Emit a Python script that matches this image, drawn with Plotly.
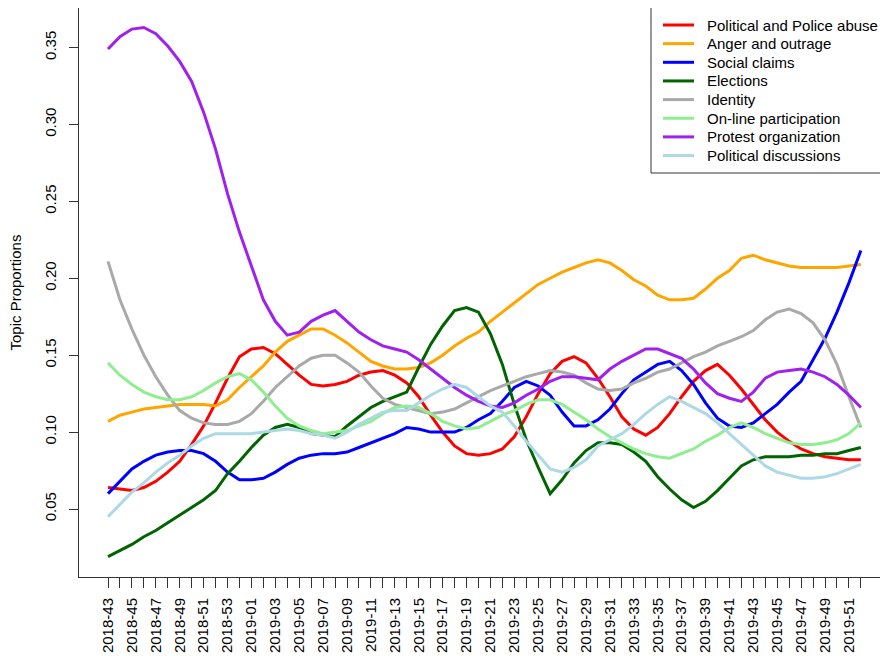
import plotly.graph_objects as go

weeks = (["2018-%02d" % w for w in range(43, 54)]
         + ["2019-%02d" % w for w in range(0, 53)])
tick_text = [wk if i % 2 == 0 else "" for i, wk in enumerate(weeks)]

police_abuse = [0.064, 0.063, 0.062, 0.064, 0.068, 0.074, 0.081, 0.092, 0.104, 0.119,
                0.135, 0.149, 0.154, 0.155, 0.151, 0.144, 0.137, 0.131, 0.130, 0.131,
                0.133, 0.137, 0.139, 0.140, 0.137, 0.132, 0.123, 0.111, 0.100, 0.091,
                0.086, 0.085, 0.086, 0.089, 0.097, 0.110, 0.125, 0.138, 0.146, 0.149,
                0.145, 0.135, 0.123, 0.110, 0.102, 0.098, 0.103, 0.112, 0.123, 0.133,
                0.140, 0.144, 0.137, 0.128, 0.118, 0.108, 0.100, 0.094, 0.089, 0.086,
                0.084, 0.083, 0.082, 0.082]
anger = [0.107, 0.111, 0.113, 0.115, 0.116, 0.117, 0.118, 0.118, 0.118, 0.117,
         0.121, 0.129, 0.136, 0.143, 0.152, 0.159, 0.163, 0.167, 0.167, 0.163,
         0.158, 0.152, 0.146, 0.143, 0.141, 0.141, 0.142, 0.145, 0.150, 0.156,
         0.161, 0.165, 0.172, 0.178, 0.184, 0.190, 0.196, 0.200, 0.204, 0.207,
         0.210, 0.212, 0.210, 0.205, 0.199, 0.195, 0.189, 0.186, 0.186, 0.187,
         0.193, 0.200, 0.205, 0.213, 0.215, 0.212, 0.210, 0.208, 0.207, 0.207,
         0.207, 0.207, 0.208, 0.209]
social = [0.060, 0.068, 0.076, 0.081, 0.085, 0.087, 0.088, 0.088, 0.086, 0.081,
          0.074, 0.069, 0.069, 0.070, 0.074, 0.079, 0.083, 0.085, 0.086, 0.086,
          0.087, 0.090, 0.093, 0.096, 0.099, 0.103, 0.102, 0.100, 0.100, 0.100,
          0.103, 0.108, 0.112, 0.120, 0.129, 0.133, 0.130, 0.124, 0.113, 0.104,
          0.104, 0.108, 0.115, 0.125, 0.134, 0.139, 0.144, 0.146, 0.140, 0.131,
          0.119, 0.109, 0.104, 0.103, 0.106, 0.112, 0.118, 0.126, 0.133, 0.147,
          0.161, 0.178, 0.197, 0.218]
elections = [0.019, 0.023, 0.027, 0.032, 0.036, 0.041, 0.046, 0.051, 0.056, 0.062,
             0.073, 0.081, 0.090, 0.098, 0.103, 0.105, 0.103, 0.099, 0.098, 0.097,
             0.104, 0.110, 0.116, 0.120, 0.123, 0.126, 0.142, 0.157, 0.169, 0.179,
             0.181, 0.178, 0.164, 0.144, 0.118, 0.095, 0.077, 0.060, 0.069, 0.080,
             0.088, 0.093, 0.093, 0.092, 0.087, 0.081, 0.071, 0.063, 0.056, 0.051,
             0.055, 0.062, 0.070, 0.078, 0.082, 0.084, 0.084, 0.084, 0.085, 0.085,
             0.086, 0.086, 0.088, 0.090]
identity = [0.211, 0.186, 0.167, 0.150, 0.136, 0.124, 0.114, 0.109, 0.106, 0.105,
            0.105, 0.107, 0.112, 0.120, 0.129, 0.136, 0.143, 0.148, 0.150, 0.150,
            0.145, 0.139, 0.130, 0.122, 0.118, 0.116, 0.114, 0.112, 0.113, 0.115,
            0.119, 0.123, 0.127, 0.130, 0.133, 0.136, 0.138, 0.140, 0.139, 0.137,
            0.132, 0.128, 0.127, 0.128, 0.132, 0.135, 0.139, 0.141, 0.145, 0.149,
            0.152, 0.156, 0.159, 0.162, 0.166, 0.173, 0.178, 0.180, 0.177, 0.171,
            0.160, 0.144, 0.123, 0.103]
online = [0.145, 0.137, 0.131, 0.126, 0.123, 0.121, 0.121, 0.123, 0.127, 0.132,
          0.136, 0.138, 0.134, 0.126, 0.117, 0.109, 0.104, 0.101, 0.099, 0.100,
          0.101, 0.104, 0.107, 0.112, 0.116, 0.117, 0.116, 0.112, 0.107, 0.104,
          0.102, 0.103, 0.107, 0.111, 0.114, 0.118, 0.121, 0.121, 0.118, 0.113,
          0.108, 0.102, 0.097, 0.093, 0.089, 0.086, 0.084, 0.083, 0.086, 0.089,
          0.094, 0.098, 0.103, 0.106, 0.103, 0.099, 0.096, 0.093, 0.092, 0.092,
          0.093, 0.095, 0.099, 0.106]
protest = [0.349, 0.357, 0.362, 0.363, 0.359, 0.351, 0.341, 0.328, 0.308, 0.284,
           0.255, 0.230, 0.208, 0.186, 0.172, 0.163, 0.165, 0.172, 0.176, 0.179,
           0.172, 0.165, 0.160, 0.156, 0.154, 0.152, 0.147, 0.141, 0.135, 0.129,
           0.124, 0.120, 0.117, 0.116, 0.119, 0.124, 0.128, 0.133, 0.136, 0.136,
           0.135, 0.134, 0.141, 0.146, 0.150, 0.154, 0.154, 0.151, 0.148, 0.141,
           0.132, 0.125, 0.122, 0.120, 0.126, 0.135, 0.139, 0.140, 0.141, 0.139,
           0.136, 0.131, 0.124, 0.116]
discussions = [0.045, 0.053, 0.061, 0.067, 0.074, 0.080, 0.085, 0.091, 0.096, 0.099,
               0.099, 0.099, 0.099, 0.100, 0.101, 0.102, 0.101, 0.099, 0.098, 0.096,
               0.100, 0.105, 0.109, 0.113, 0.114, 0.114, 0.119, 0.124, 0.128, 0.131,
               0.129, 0.123, 0.117, 0.113, 0.104, 0.094, 0.085, 0.076, 0.074, 0.077,
               0.082, 0.091, 0.095, 0.099, 0.105, 0.112, 0.118, 0.123, 0.120, 0.116,
               0.112, 0.106, 0.099, 0.092, 0.085, 0.078, 0.074, 0.072, 0.070, 0.070,
               0.071, 0.073, 0.076, 0.079]

series = [
    ("Political and Police abuse", police_abuse, "#FF0000"),
    ("Anger and outrage", anger, "#FFA500"),
    ("Social claims", social, "#0000FF"),
    ("Elections", elections, "#006400"),
    ("Identity", identity, "#A9A9A9"),
    ("On-line participation", online, "#90EE90"),
    ("Protest organization", protest, "#A020F0"),
    ("Political discussions", discussions, "#ADD8E6"),
]

# page body has an 8px margin: figure origin sits at window (8, 8)
W, H = 880, 648
ML, MR, MT, MB = 71, 0, 0, 79
PL, PR, PT, PB = 79, 888, 8, 577   # plot box in window pixels


def px(xw):
    return (xw - PL) / (PR - PL)


def py(yw):
    return (PB - yw) / (PB - PT)


fig = go.Figure()
for name, vals, col in series:
    fig.add_trace(go.Scatter(x=weeks, y=vals, mode="lines", name=name,
                             line=dict(color=col, width=3), showlegend=False))

font_family = "Liberation Sans, Arial, Helvetica, sans-serif"
axis_col = "#333333"

shapes = [dict(type="rect", xref="paper", yref="paper", x0=px(651), x1=px(905),
               y0=py(173), y1=py(7), line=dict(color=axis_col, width=1),
               fillcolor="white", layer="above")]
annotations = [dict(text="Topic Proportions", xref="paper", yref="paper",
                    x=px(15), y=0.5, xanchor="center", yanchor="middle",
                    textangle=-90, showarrow=False, font=dict(size=15))]
for k, (name, vals, col) in enumerate(series):
    yrow = 25 + 18.65 * k
    shapes.append(dict(type="line", xref="paper", yref="paper", x0=px(663), x1=px(694),
                       y0=py(yrow), y1=py(yrow), line=dict(color=col, width=3),
                       layer="above"))
    annotations.append(dict(text=name, xref="paper", yref="paper", x=px(705), y=py(yrow),
                            xanchor="left", yanchor="middle", showarrow=False,
                            font=dict(size=15, color="black")))

fig.update_layout(
    width=W, height=H,
    margin=dict(l=ML, r=MR, t=MT, b=MB, autoexpand=False),
    paper_bgcolor="white", plot_bgcolor="white",
    font=dict(family=font_family, size=15, color="black"),
    showlegend=False,
    xaxis=dict(type="category", categoryorder="array", categoryarray=weeks,
               range=[(79 - 108) / 11.95, (888 - 108) / 11.95],
               tickmode="array", tickvals=weeks, ticktext=tick_text,
               tickangle=-90, ticks="outside", ticklen=10, tickcolor=axis_col,
               showline=True, linecolor=axis_col, linewidth=1, mirror=True,
               showgrid=False, zeroline=False, automargin=False, ticklabelstandoff=4),
    yaxis=dict(range=[0.0058, 0.3757], tickvals=[0.05, 0.10, 0.15, 0.20, 0.25, 0.30, 0.35],
               ticktext=["0.05", "0.10", "0.15", "0.20", "0.25", "0.30", "0.35"],
               tickangle=-90, ticks="outside", ticklen=9, tickcolor=axis_col,
               showline=True, linecolor=axis_col, linewidth=1,
               showgrid=False, zeroline=False, automargin=False, ticklabelstandoff=7),
    shapes=shapes,
    annotations=annotations,
)

fig.write_html("out.html")
